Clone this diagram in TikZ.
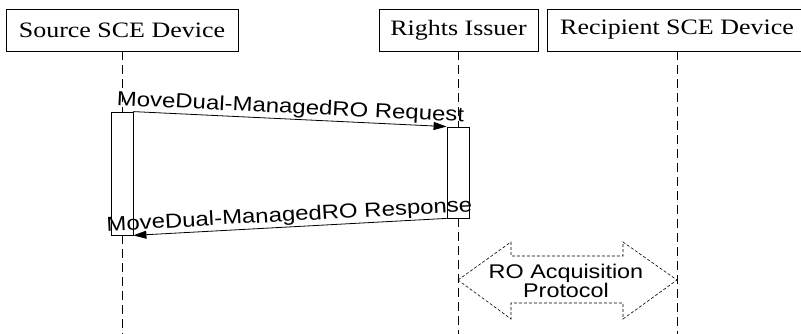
\documentclass[tikz,border=0pt]{standalone}
\usepackage{fontspec}
\setmainfont{Liberation Serif}
\setsansfont{Liberation Sans}
\usetikzlibrary{arrows.meta}
\newcommand{\wide}[1]{\scalebox{1.18}[1]{#1}}
\begin{document}
\begin{tikzpicture}[x=1pt,y=-1pt,
  actor/.style={draw, line width=0.8pt, minimum height=42pt, inner sep=0pt,
    font=\fontsize{22}{24}\selectfont},
  lifeline/.style={line width=0.8pt, dash pattern=on 9pt off 5pt},
  activation/.style={draw, line width=0.8pt, minimum width=22pt, inner sep=0pt},
  msg/.style={line width=0.8pt, -{Triangle[length=13pt,width=8pt]}},
  msglabel/.style={font=\sffamily\fontsize{20.3}{22}\selectfont, sloped, above, inner sep=1pt},
  protocol/.style={line width=0.6pt, dash pattern=on 3pt off 2pt},
  protolabel/.style={font=\sffamily\fontsize{19.8}{19.5}\selectfont, align=center, inner sep=0pt}]
\useasboundingbox (0,0) rectangle (801,334);

% participants
\node[actor, minimum width=232pt] (src) at (122,30) {\wide{Source SCE Device}};
\node[actor, minimum width=159pt] (ri)  at (458.5,30) {\wide{Rights Issuer}};
\node[actor, minimum width=260pt] (rcp) at (677,30) {\wide{Recipient SCE Device}};

% activation bars
\node[activation, minimum height=123pt] (srcact) at (122,173.5) {};
\node[activation, minimum height=91pt]  (riact)  at (458,172.5) {};

% lifeline ends
\coordinate (ritop)  at (458,51);
\coordinate (rcptop) at (677,51);
\coordinate (srcend) at (122,334);
\coordinate (riend)  at (458,334);
\coordinate (rcpend) at (677,334);

% lifelines
\draw[lifeline] (src.south) -- (srcact.north);
\draw[lifeline] (srcact.south) -- (srcend);
\draw[lifeline] (ritop) -- (riact.north);
\draw[lifeline] (riact.south) -- (riend);
\draw[lifeline] (rcptop) -- (rcpend);

% messages
\draw[msg] (srcact.north east) -- node[msglabel] {\wide{MoveDual-ManagedRO Request}} (riact.north west);
\draw[msg] (riact.south west) -- node[msglabel] {\wide{MoveDual-ManagedRO Response}} (srcact.south east);

% RO acquisition double arrow
\draw[protocol] (458,280) -- (511,242) -- (511,256) -- (623,256) -- (623,242) -- (677,280)
  -- (623,319) -- (623,303) -- (511,303) -- (511,319) -- cycle;
\node[protolabel] (roacq) at (566,281) {\wide{RO Acquisition}\\\wide{Protocol}};
\end{tikzpicture}
\end{document}
